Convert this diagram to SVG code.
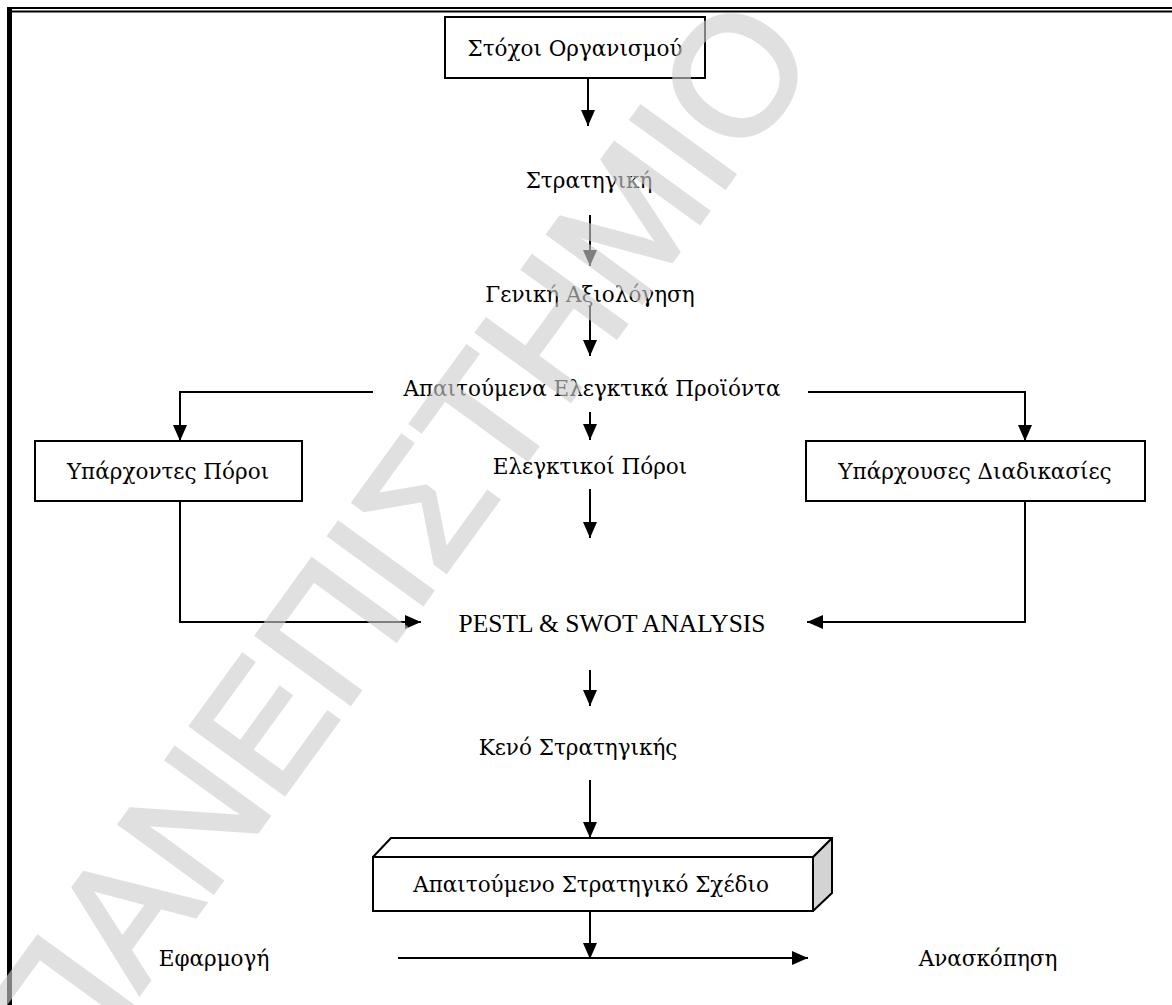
<svg xmlns="http://www.w3.org/2000/svg" width="1172" height="1005" viewBox="0 0 1172 1005">
  <defs>
    <style>
      .lbl { font-family: "DejaVu Serif", "Liberation Serif", serif; font-size: 21.5px; fill: #000; text-anchor: middle; }
      .latin { font-family: "Liberation Serif", "DejaVu Serif", serif; font-size: 25.5px; }
      .box { fill: #fff; stroke: #000; stroke-width: 2; }
      .wire { fill: none; stroke: #000; stroke-width: 2; }
      .frame { stroke: #000; fill: none; }
      .mark { font-family: "Liberation Sans", Arial, sans-serif; font-size: 168px; fill: #cecece; stroke: #cecece; stroke-width: 4; stroke-linejoin: miter; }
    </style>
    <marker id="head" viewBox="0 0 16 14" refX="16" refY="7" markerWidth="16" markerHeight="14" markerUnits="userSpaceOnUse" orient="auto">
      <path d="M0,0 L16,7 L0,14 z" fill="#000"/>
    </marker>
  </defs>

  <rect width="1172" height="1005" fill="#fff"/>

  <!-- page border: double rule on top, heavy rule on the left -->
  <g id="frame">
    <line class="frame" x1="7" y1="8" x2="1172" y2="8" stroke-width="2"/>
    <line class="frame" x1="10" y1="11.5" x2="1172" y2="11.5" stroke-width="2"/>
    <line class="frame" x1="9.5" y1="7" x2="9.5" y2="1005" stroke-width="5"/>
  </g>

  <!-- connectors -->
  <g id="connectors">
    <line class="wire" x1="588" y1="78" x2="588" y2="126" marker-end="url(#head)"/>
    <line class="wire" x1="590" y1="215" x2="590" y2="266" marker-end="url(#head)"/>
    <line class="wire" x1="590" y1="306" x2="590" y2="356" marker-end="url(#head)"/>
    <line class="wire" x1="590" y1="412" x2="590" y2="440" marker-end="url(#head)"/>
    <polyline class="wire" points="373,392 180,392 180,441" marker-end="url(#head)"/>
    <polyline class="wire" points="808,392 1025,392 1025,441" marker-end="url(#head)"/>
    <line class="wire" x1="590" y1="489" x2="590" y2="538" marker-end="url(#head)"/>
    <polyline class="wire" points="180,501 180,622 421,622" marker-end="url(#head)"/>
    <polyline class="wire" points="1025,501 1025,622 807,622" marker-end="url(#head)"/>
    <line class="wire" x1="590" y1="670" x2="590" y2="706" marker-end="url(#head)"/>
    <line class="wire" x1="590" y1="780" x2="590" y2="838" marker-end="url(#head)"/>
    <line class="wire" x1="590" y1="911" x2="590" y2="959" marker-end="url(#head)"/>
    <line class="wire" x1="398" y1="958" x2="808" y2="958" marker-end="url(#head)"/>
  </g>

  <g id="goals">
    <rect class="box" x="445" y="17" width="260" height="61"/>
    <text class="lbl" x="575" y="56">Στόχοι Οργανισμού</text>
  </g>

  <g id="strategy">
    <text class="lbl" x="589" y="188">Στρατηγική</text>
  </g>

  <g id="assessment">
    <text class="lbl" x="590" y="302">Γενική Αξιολόγηση</text>
  </g>

  <g id="audit-products">
    <text class="lbl" x="592" y="396">Απαιτούμενα Ελεγκτικά Προϊόντα</text>
  </g>

  <g id="audit-resources">
    <text class="lbl" x="590" y="474">Ελεγκτικοί Πόροι</text>
  </g>

  <g id="existing-resources">
    <rect class="box" x="35" y="441" width="267" height="60"/>
    <text class="lbl" x="168" y="479">Υπάρχοντες Πόροι</text>
  </g>

  <g id="existing-processes">
    <rect class="box" x="806" y="441" width="339" height="60"/>
    <text class="lbl" x="975" y="479">Υπάρχουσες Διαδικασίες</text>
  </g>

  <g id="analysis">
    <text class="lbl latin" x="612" y="632">PESTL &amp; SWOT ANALYSIS</text>
  </g>

  <g id="gap">
    <text class="lbl" x="578" y="755">Κενό Στρατηγικής</text>
  </g>

  <g id="plan">
    <polygon points="813,857 832,838 832,893 813,911" fill="#d3d3d3" stroke="#000" stroke-width="2" stroke-linejoin="round"/>
    <polygon points="373,857 391,838 832,838 813,857" fill="#fff" stroke="#000" stroke-width="2" stroke-linejoin="round"/>
    <rect class="box" x="373" y="857" width="440" height="54"/>
    <text class="lbl" x="591" y="892">Απαιτούμενο Στρατηγικό Σχέδιο</text>
  </g>

  <g id="implementation">
    <text class="lbl" x="214" y="966">Εφαρμογή</text>
  </g>

  <g id="review">
    <text class="lbl" x="988" y="966">Ανασκόπηση</text>
  </g>

  <!-- diagonal watermark across the page -->
  <g opacity="0.62">
    <text class="mark" transform="translate(68 1092) rotate(-54)">ΠΑΝΕΠΙΣΤΗΜΙΟ</text>
  </g>
</svg>
